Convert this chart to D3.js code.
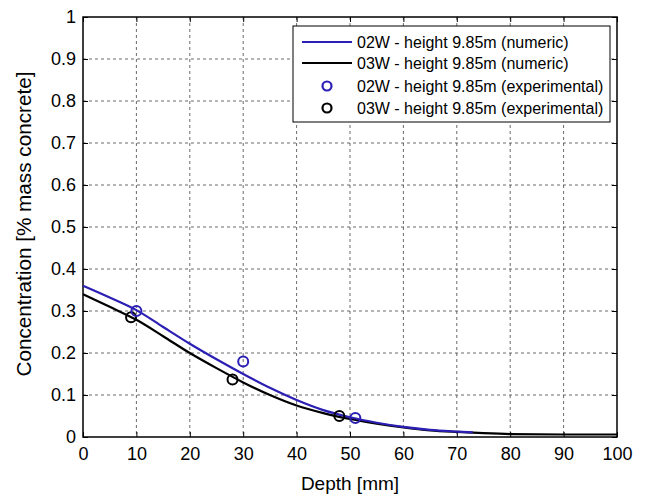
<!DOCTYPE html>
<html><head><meta charset="utf-8">
<script src="https://cdn.jsdelivr.net/npm/d3@7"></script>
<style>body{margin:0;background:#fff}svg{display:block}text{font-family:"Liberation Sans",Arial,sans-serif}</style>
</head><body><svg id="c" width="648" height="497"></svg>
<script>
const xTicks=[0,10,20,30,40,50,60,70,80,90,100];
const yTicks=[0,0.1,0.2,0.3,0.4,0.5,0.6,0.7,0.8,0.9,1];
const depth02=[0,5,10,15,20,25,30,35,40,45,50,55,60,65,70,73];
const num02=[0.36,0.332,0.302,0.262,0.222,0.185,0.15,0.117,0.088,0.064,0.047,0.034,0.024,0.017,0.013,0.011];
const depth03=[0,5,10,15,20,25,30,35,40,45,50,55,60,65,70,75,80,90,100];
const num03=[0.34,0.31,0.279,0.24,0.20,0.164,0.13,0.10,0.075,0.057,0.043,0.032,0.023,0.016,0.012,0.009,0.007,0.006,0.006];
const exp02x=[10,30,51], exp02y=[0.30,0.18,0.045];
const exp03x=[9,28,48], exp03y=[0.285,0.137,0.05];
const legendLabels=["02W - height 9.85m (numeric)","03W - height 9.85m (numeric)","02W - height 9.85m (experimental)","03W - height 9.85m (experimental)"];
const BLUE="#2b1fb4", BLACK="#000";

const svg=d3.select("#c");
const L=83,R=617,T=17,B=437;
const x=d3.scaleLinear().domain([0,100]).range([L,R]);
const y=d3.scaleLinear().domain([0,1]).range([B,T]);

// grid
const g=svg.append("g");
g.selectAll(".gx").data(xTicks.slice(1,-1)).join("line").attr("x1",d=>x(d)).attr("x2",d=>x(d)).attr("y1",T).attr("y2",B)
 .attr("stroke","#444").attr("stroke-width",0.8).attr("stroke-dasharray","3,3");
g.selectAll(".gy").data(yTicks.slice(1,-1)).join("line").attr("y1",d=>y(d)).attr("y2",d=>y(d)).attr("x1",L).attr("x2",R)
 .attr("stroke","#444").attr("stroke-width",0.8).attr("stroke-dasharray","3,3");

// axes
const fs=18;
const ax=svg.append("g").attr("transform",`translate(0,${B})`).call(d3.axisBottom(x).tickValues(xTicks).tickSize(-5).tickPadding(10).tickFormat(d3.format("d")));
const axT=svg.append("g").attr("transform",`translate(0,${T})`).call(d3.axisTop(x).tickValues(xTicks).tickSize(-5).tickFormat(""));
const ay=svg.append("g").attr("transform",`translate(${L},0)`).call(d3.axisLeft(y).tickValues(yTicks).tickSize(-5).tickPadding(7).tickFormat(d=>d===0||d===1?String(d):d.toFixed(1)));
const ayR=svg.append("g").attr("transform",`translate(${R},0)`).call(d3.axisRight(y).tickValues(yTicks).tickSize(-5).tickFormat(""));
[ax,axT,ay,ayR].forEach(a=>{a.select(".domain").remove();a.selectAll("line").attr("stroke","#000");a.selectAll("text").attr("font-size",fs).attr("fill","#000").style("font-family",'"Liberation Sans",Arial,sans-serif');});
svg.append("rect").attr("x",L).attr("y",T).attr("width",R-L).attr("height",B-T).attr("fill","none").attr("stroke","#000").attr("stroke-width",1.5);

// lines
const line=d3.line().x(d=>x(d[0])).y(d=>y(d[1])).curve(d3.curveMonotoneX);
svg.append("path").attr("d",line(depth03.map((d,i)=>[d,num03[i]]))).attr("fill","none").attr("stroke",BLACK).attr("stroke-width",2.2);
svg.append("path").attr("d",line(depth02.map((d,i)=>[d,num02[i]]))).attr("fill","none").attr("stroke",BLUE).attr("stroke-width",2.2);

// points
svg.selectAll(".p3").data(exp03x).join("circle").attr("cx",d=>x(d)).attr("cy",(d,i)=>y(exp03y[i])).attr("r",5).attr("fill","none").attr("stroke",BLACK).attr("stroke-width",2);
svg.selectAll(".p2").data(exp02x).join("circle").attr("cx",d=>x(d)).attr("cy",(d,i)=>y(exp02y[i])).attr("r",5).attr("fill","none").attr("stroke",BLUE).attr("stroke-width",2);

// labels
svg.append("text").attr("x",350).attr("y",490).attr("text-anchor","middle").attr("font-size",19).text("Depth [mm]");
svg.append("text").attr("transform",`translate(31,224) rotate(-90)`).attr("text-anchor","middle").attr("font-size",20)
 .attr("textLength",305).attr("lengthAdjust","spacingAndGlyphs").text("Concentration [% mass concrete]");

// legend
const lg=svg.append("g");
lg.append("rect").attr("x",293).attr("y",26).attr("width",317).attr("height",96).attr("fill","#fff").attr("stroke","#000").attr("stroke-width",1);
const rowY=[42,63,86,108];
const colors=[BLUE,BLACK,BLUE,BLACK];
rowY.forEach((ry,i)=>{
  if(i<2) lg.append("line").attr("x1",302).attr("x2",352).attr("y1",ry).attr("y2",ry).attr("stroke",colors[i]).attr("stroke-width",2.2);
  else lg.append("circle").attr("cx",327).attr("cy",ry).attr("r",4.5).attr("fill","none").attr("stroke",colors[i]).attr("stroke-width",2.2);
  lg.append("text").attr("x",357).attr("y",ry+5.5).attr("font-size",16).text(legendLabels[i]);
});
</script></body></html>
